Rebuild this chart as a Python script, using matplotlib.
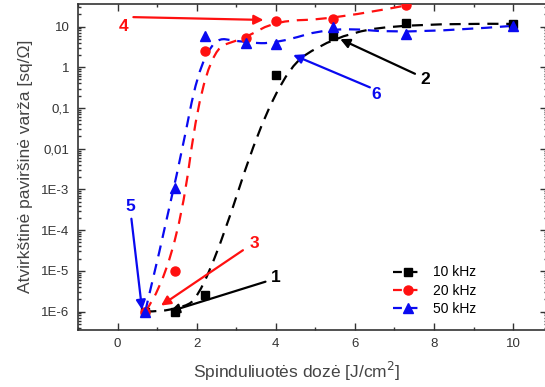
import numpy as np
import matplotlib
matplotlib.use("Agg")
import matplotlib.pyplot as plt
from matplotlib.path import Path
from matplotlib.patches import PathPatch
from matplotlib.lines import Line2D
from matplotlib.ticker import FixedLocator, FixedFormatter, LogLocator, NullFormatter

# ---- data ----
dose_10 = [0.7, 1.45, 2.2, 4.0, 5.45, 7.3, 10.0]
res_10 = [1e-6, 1e-6, 2.5e-6, 0.64, 5.8, 12.2, 11.6]
dose_20 = [0.7, 1.45, 2.2, 3.25, 4.0, 5.45, 7.3]
res_20 = [1e-6, 1e-5, 2.5, 5.3, 14.0, 15.0, 33.0]
dose_50 = [0.7, 1.45, 2.2, 3.25, 4.0, 5.45, 7.3, 10.0]
res_50 = [1e-6, 1.1e-3, 5.9, 4.0, 3.8, 10.0, 6.5, 10.4]
series_labels = ["10 kHz", "20 kHz", "50 kHz"]

xtick_values = [0, 2, 4, 6, 8, 10]
ytick_values = [1e-6, 1e-5, 1e-4, 1e-3, 0.01, 0.1, 1, 10]
ytick_labels = ["1E-6", "1E-5", "1E-4", "1E-3", "0,01", "0,1", "1", "10"]

# annotations: label, label pos, arrow tail, arrow head, colour
annotations = [
    ("1", (4.0, 7e-6), (3.74, 5.4e-6), (1.32, 1.0e-6), "black"),
    ("2", (7.78, 0.49), (7.52, 0.69), (5.63, 4.9), "black"),
    ("3", (3.47, 4.6e-5), (3.17, 3.2e-5), (1.10, 1.4e-6), "#ff1010"),
    ("4", (0.15, 10.0), (0.40, 17.0), (3.69, 14.5), "#ff1010"),
    ("5", (0.33, 3.9e-4), (0.35, 1.9e-4), (0.62, 1.1e-6), "#0a0af0"),
    ("6", (6.55, 0.21), (6.38, 0.32), (4.44, 2.0), "#0a0af0"),
]

plt.rcParams["font.family"] = ["Liberation Sans", "DejaVu Sans"]

W, H = 545, 387
fig = plt.figure(figsize=(W / 100, H / 100), dpi=100)
left_px, right_px, top_px, bot_px = 78, 546.7, 4, 329.5
ax = fig.add_axes([left_px / W, 1 - bot_px / H, (right_px - left_px) / W, (bot_px - top_px) / H])

ax.set_yscale("log")
ax.set_xlim(-1.0, 10.85)
ax.set_ylim(10 ** -6.442, 10 ** 1.553)


def bspline_path(xs, ys):
    """Quadratic clamped B-spline (data points as control points) in x / log-y space."""
    verts = [(xs[0], ys[0])]
    codes = [Path.MOVETO]
    n = len(xs)
    for i in range(1, n - 1):
        verts.append((xs[i], ys[i]))
        if i < n - 2:
            verts.append(((xs[i] + xs[i + 1]) / 2, np.sqrt(ys[i] * ys[i + 1])))
        else:
            verts.append((xs[n - 1], ys[n - 1]))
        codes += [Path.CURVE3, Path.CURVE3]
    return Path(verts, codes)


colors = ["black", "#ff1010", "#0a0af0"]
markers = ["s", "o", "^"]
msizes = [5.5, 6.5, 6.5]
dash = (0, (5, 3.5))
datasets = [(dose_10, res_10), (dose_20, res_20), (dose_50, res_50)]

for (xs, ys), c, m, ms in zip(datasets, colors, markers, msizes):
    patch = PathPatch(bspline_path(xs, ys), fill=False, edgecolor=c, lw=1.6,
                      linestyle=dash, capstyle="butt", zorder=2)
    ax.add_patch(patch)

for (xs, ys), c, m, ms in zip(datasets, colors, markers, msizes):
    ax.plot(xs, ys, linestyle="none", marker=m, color=c, ms=ms, zorder=3)

for lab, lpos, tail, head, c in annotations:
    ax.annotate("", xy=head, xytext=tail,
                arrowprops=dict(arrowstyle="-|>", color=c, lw=1.6, mutation_scale=14,
                                shrinkA=0, shrinkB=0), zorder=4)
    ax.text(lpos[0], lpos[1], lab, color=c, fontsize=12.5, fontweight="bold",
            ha="center", va="center", zorder=5)

handles = [Line2D([], [], color=c, marker=m, ms=ms, lw=1.6, linestyle=(0, (4, 3)))
           for c, m, ms in zip(colors, markers, msizes)]
ax.legend(handles, series_labels, loc="upper left", bbox_to_anchor=(0.672, 0.197),
          frameon=False, borderpad=0, borderaxespad=0, handlelength=2.2,
          handletextpad=0.7, labelspacing=0.32, fontsize=10)

# ticks
ax.xaxis.set_major_locator(FixedLocator(xtick_values))
ax.xaxis.set_minor_locator(FixedLocator([-1, 1, 3, 5, 7, 9]))
ax.yaxis.set_major_locator(FixedLocator(ytick_values))
ax.yaxis.set_major_formatter(FixedFormatter(ytick_labels))
ax.yaxis.set_minor_locator(LogLocator(base=10, subs=np.arange(2, 10), numticks=30))
ax.yaxis.set_minor_formatter(NullFormatter())
ax.tick_params(which="both", direction="in", top=True, right=True, color="#333333", width=1)
ax.tick_params(which="major", length=5, labelsize=9.5, labelcolor="#333333", pad=6)
ax.tick_params(which="minor", length=2.5)
for s in ax.spines.values():
    s.set_linewidth(1.2)
    s.set_color("#333333")

ax.set_xlabel("Spinduliuotės dozė [J/cm$^2$]", fontsize=12.5, color="#444444", labelpad=7)
ax.xaxis.label.set_x(0.467)
ax.set_ylabel("Atvirkštinė paviršinė varža [sq/Ω]", fontsize=12.5, color="#444444", labelpad=6)

fig.savefig("out.png", dpi=100)
